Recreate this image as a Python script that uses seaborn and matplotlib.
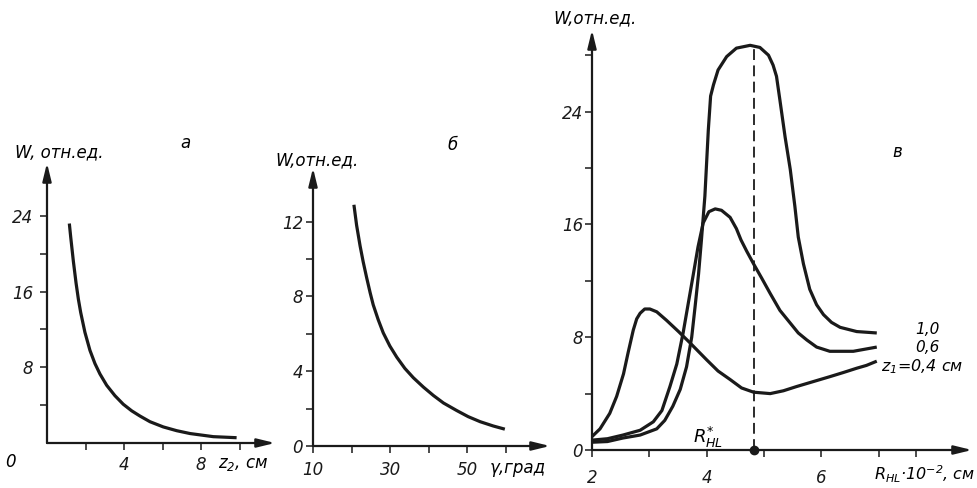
import matplotlib
matplotlib.use("Agg")
import matplotlib.pyplot as plt
import seaborn as sns
import pandas as pd

# --- data ---
# panel а: W vs z2, cm
z2_cm = [1.16, 1.23, 1.37, 1.51, 1.63, 1.75, 1.97, 2.23, 2.49, 2.75, 3.1, 3.53, 3.96,
         4.4, 4.83, 5.35, 6.04, 6.74, 7.43, 8.64, 9.85]
w_a = [23.2, 21.8, 19.2, 16.9, 15.2, 13.8, 11.7, 9.8, 8.4, 7.3, 6.1, 5.0, 4.1,
       3.4, 2.85, 2.25, 1.7, 1.3, 1.0, 0.67, 0.56]

# panel б: W vs gamma, deg
gamma_deg = [20.6, 21.3, 22.2, 23.0, 23.9, 24.8, 25.6, 26.9, 28.2, 29.9, 31.7, 33.8,
             36.0, 38.6, 41.2, 43.8, 47.2, 50.2, 53.3, 56.7, 59.7]
w_b = [12.9, 11.8, 10.7, 9.85, 9.0, 8.2, 7.55, 6.75, 6.05, 5.35, 4.75, 4.15,
       3.65, 3.15, 2.7, 2.3, 1.9, 1.57, 1.3, 1.07, 0.9]

# panel в: W vs R_HL*1e-2 cm, for z1 = 1.0, 0.6, 0.4 cm
r_z10 = [2.0, 2.27, 2.54, 2.84, 3.13, 3.27, 3.41, 3.54, 3.65, 3.74, 3.8, 3.86, 3.91,
         3.97, 4.03, 4.07, 4.12, 4.2, 4.35, 4.52, 4.76, 4.93, 5.08, 5.16, 5.22, 5.28,
         5.37, 5.46, 5.54, 5.6, 5.69, 5.8, 5.92, 6.04, 6.18, 6.33, 6.62, 6.97]
w_z10 = [0.55, 0.6, 0.85, 1.06, 1.5, 2.1, 3.1, 4.3, 5.9, 8.0, 10.2, 12.5, 14.9,
         18.0, 22.7, 25.1, 25.9, 26.95, 27.9, 28.5, 28.7, 28.55, 28.0, 27.3, 26.5, 24.8,
         22.2, 19.9, 17.3, 15.1, 13.2, 11.4, 10.3, 9.6, 9.05, 8.7, 8.4, 8.3]
r_z06 = [2.0, 2.27, 2.54, 2.84, 3.07, 3.22, 3.36, 3.48, 3.59, 3.68, 3.77, 3.85, 3.94,
         4.04, 4.15, 4.26, 4.41, 4.52, 4.6, 4.7, 4.82, 4.96, 5.11, 5.28, 5.46, 5.6,
         5.75, 5.92, 6.15, 6.56, 6.97]
w_z06 = [0.7, 0.8, 1.06, 1.4, 2.0, 2.8, 4.5, 6.1, 8.3, 10.4, 12.5, 14.4, 16.1,
         16.9, 17.1, 17.0, 16.5, 15.7, 14.9, 14.1, 13.2, 12.2, 11.1, 9.9, 9.0, 8.3,
         7.8, 7.3, 7.0, 7.0, 7.3]
r_z04 = [2.0, 2.14, 2.31, 2.43, 2.55, 2.63, 2.72, 2.78, 2.84, 2.92, 3.01, 3.13, 3.3,
         3.51, 3.71, 4.0, 4.2, 4.41, 4.61, 4.82, 5.11, 5.34, 5.57, 5.86, 6.15, 6.39,
         6.62, 6.79, 6.97]
w_z04 = [0.95, 1.5, 2.6, 3.8, 5.4, 6.9, 8.5, 9.3, 9.7, 10.0, 10.0, 9.8, 9.2,
         8.4, 7.6, 6.4, 5.6, 5.0, 4.4, 4.1, 4.0, 4.2, 4.5, 4.85, 5.2, 5.5,
         5.8, 6.0, 6.3]
r_star = 4.82
w_peak = 28.7
curve_labels = ["1,0", "0,6", "z$_1$=0,4 см"]

W_PX, H_PX = 977, 488

sns.set_theme(style="white")
plt.rcParams["font.family"] = ["DejaVu Sans"]
plt.rcParams["font.style"] = "italic"
plt.rcParams["mathtext.fontset"] = "dejavusans"
plt.rcParams["text.color"] = "black"
plt.rcParams["xtick.color"] = "black"
plt.rcParams["ytick.color"] = "black"


def fx(px):
    return px / W_PX


def fy(py):
    return 1 - py / H_PX


def add_panel(fig, left, right, bottom, top):
    return fig.add_axes([fx(left), fy(bottom), (right - left) / W_PX, (bottom - top) / H_PX])


def style_axis(ax, xpad, ypad):
    for s in ax.spines.values():
        s.set_visible(False)
    arrow = dict(arrowstyle="-|>,head_length=0.9,head_width=0.22", color="k", lw=1.6,
                 mutation_scale=12, shrinkA=0, shrinkB=0)
    ax.annotate("", xy=(1, 0), xytext=(0, 0), xycoords="axes fraction", arrowprops=arrow)
    ax.annotate("", xy=(0, 1), xytext=(0, 0), xycoords="axes fraction", arrowprops=arrow)
    ax.tick_params(axis="both", direction="out", length=5, width=1.1, color="k",
                   labelsize=12, labelcolor="k", bottom=True, left=True)
    ax.tick_params(axis="x", pad=xpad)
    ax.tick_params(axis="y", pad=ypad)
    ax.set_xlabel("")
    ax.set_ylabel("")
    ax.patch.set_alpha(0)


def line(ax, x, y):
    df = pd.DataFrame({"x": x, "y": y})
    sns.lineplot(data=df, x="x", y="y", ax=ax, color="k", lw=2.3, estimator=None,
                 sort=False, solid_joinstyle="round", solid_capstyle="butt")


fig = plt.figure(figsize=(W_PX / 100, H_PX / 100), dpi=100)

# panel а
ax_a = add_panel(fig, 47, 275, 443, 163)
line(ax_a, z2_cm, w_a)
ax_a.set_xlim(0, (275 - 47) / 19.25)
ax_a.set_ylim(0, (443 - 163) / 9.46)
ax_a.set_xticks([2, 4, 6, 8, 10], ["", "4", "", "8", ""])
ax_a.set_yticks([4, 8, 12, 16, 20, 24], ["", "8", "", "16", "", "24"])
style_axis(ax_a, xpad=4.5, ypad=5)
fig.text(fx(10), fy(462), "0", fontsize=12, ha="center", va="center")
fig.text(fx(15), fy(152), "W, отн.ед.", fontsize=12, ha="left", va="center")
fig.text(fx(185), fy(143), "а", fontsize=12, ha="center", va="center")
fig.text(fx(218), fy(464), "z$_2$, см", fontsize=12, ha="left", va="center")

# panel б
ax_b = add_panel(fig, 313, 550, 446, 168)
line(ax_b, gamma_deg, w_b)
ax_b.set_xlim(10, 10 + (550 - 313) / 3.86)
ax_b.set_ylim(0, (446 - 168) / 18.7)
ax_b.set_xticks([10, 20, 30, 40, 50, 60], ["10", "", "30", "", "50", ""])
ax_b.set_yticks([0, 2, 4, 6, 8, 10, 12], ["0", "", "4", "", "8", "", "12"])
style_axis(ax_b, xpad=6, ypad=2)
fig.text(fx(275), fy(160), "W,отн.ед.", fontsize=12, ha="left", va="center")
fig.text(fx(453), fy(145), "б", fontsize=12, ha="center", va="center")
fig.text(fx(490), fy(468), "γ,град", fontsize=12, ha="left", va="center")

# panel в
ax_c = add_panel(fig, 592, 972, 450, 30)
line(ax_c, r_z10, w_z10)
line(ax_c, r_z06, w_z06)
line(ax_c, r_z04, w_z04)
ax_c.plot([r_star, r_star], [0, w_peak], color="k", lw=1.3, dashes=(6, 3))
ax_c.plot([r_star], [0], "o", color="k", ms=6, clip_on=False, zorder=5)
ax_c.set_xlim(2, 2 + (972 - 592) / 57.3)
ax_c.set_ylim(0, (450 - 30) / 14.1)
ax_c.set_xticks([2, 3, 4, 5, 6, 7, 7.65], ["2", "", "4", "", "6", "", ""])
ax_c.set_yticks([0, 4, 8, 12, 16, 20, 24, 28], ["0", "", "8", "", "16", "", "24", ""])
style_axis(ax_c, xpad=8.5, ypad=1.5)
fig.text(fx(553), fy(18), "W,отн.ед.", fontsize=12, ha="left", va="center")
fig.text(fx(897), fy(152), "в", fontsize=12, ha="center", va="center")
fig.text(fx(708), fy(437), "$R^{*}_{\\mathrm{HL}}$", fontsize=13, ha="center", va="center")
fig.text(fx(975), fy(474), "$R_{\\mathrm{HL}}$·10$^{-2}$, см", fontsize=11.5, ha="right", va="center")
fig.text(fx(927), fy(330), curve_labels[0], fontsize=11, ha="center", va="center")
fig.text(fx(927), fy(347), curve_labels[1], fontsize=11, ha="center", va="center")
fig.text(fx(881), fy(367), curve_labels[2], fontsize=11.5, ha="left", va="center")

fig.savefig("out.png", dpi=100)
